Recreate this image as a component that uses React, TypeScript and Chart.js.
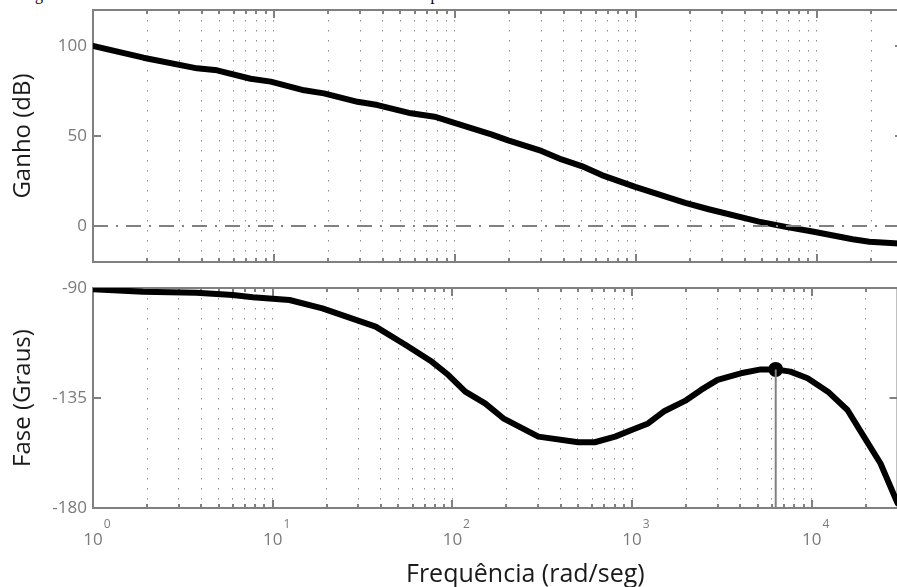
import React, { useEffect, useRef } from 'react';
import { Chart, registerables } from 'chart.js';
Chart.register(...registerables);

const FONT = "'Open Sans', sans-serif";
const TICK_COLOR = '#7a7a7a';
const TITLE_COLOR = '#1a1a1a';
const FRAME_COLOR = '#808080';
const CANVAS_W = 905;

const titleText = 'Diagrama de Bode da malha aberta do sistema avaliado com compensador';
const gainAxisTitle = 'Ganho (dB)';
const phaseAxisTitle = 'Fase (Graus)';
const freqAxisTitle = 'Frequência (rad/seg)';

// Gain curve (rad/s, dB)
const gainFreq = [1, 1.9, 3.76, 4.85, 7.43, 9.6, 14.7, 18.9, 29, 37.4, 57.3, 77.2, 95.5, 159, 197, 301, 389, 502, 649, 993, 1878, 2531, 4800, 6745, 9480, 15800, 19540, 30000];
const gainDb = [100, 93.5, 87.6, 86.5, 81.8, 80.2, 75.4, 73.7, 69, 67.2, 62.6, 60.7, 57.9, 50.9, 47.6, 41.7, 37, 33.3, 28.3, 21.7, 12.9, 9.3, 2.4, -0.5, -3.1, -7.4, -8.7, -9.8];

// Phase curve (rad/s, degrees)
const phaseFreq = [1, 1.9, 3.76, 6, 7.75, 12.4, 18.9, 37.4, 55, 77, 95, 118, 152, 192, 301, 502, 620, 805, 993, 1228, 1518, 1970, 2420, 2990, 4030, 5200, 6300, 7600, 9480, 12300, 15800, 19500, 24100, 30000];
const phaseDeg = [-90.5, -91.5, -91.9, -92.9, -93.8, -94.9, -98.3, -105.8, -113.3, -120.2, -125.6, -132.4, -137.2, -143.3, -150.8, -153.1, -153.1, -150.8, -148.1, -145.4, -140.3, -136.2, -131.7, -127.6, -124.9, -123.3, -123.3, -124.2, -126.9, -132.4, -139.9, -150.8, -161.7, -178];

// Phase margin marker
const marginFreq = [6300];
const marginPhase = [-123.3];

const gainTicks = [0, 50, 100];
const phaseTicks = [-180, -135, -90];
const gainRange = [-20, 120];
const phaseRange = [-180, -90];
const freqMin = 1;
const freqMax = 30000;
const decadeLabel = '10';

const freqTickValues: number[] = [];
for (let k = 0; k <= 4; k++) {
  for (let m = 1; m <= 9; m++) {
    const v = m * Math.pow(10, k);
    if (v <= freqMax) freqTickValues.push(v);
  }
}

const isDecade = (v: number) => {
  const l = Math.log10(v);
  return Math.abs(l - Math.round(l)) < 1e-9;
};

const framePlugin = {
  id: 'bodeFrame',
  beforeDatasetsDraw(chart: any) {
    const { ctx, chartArea } = chart;
    const { left, right, top, bottom } = chartArea;
    const xs = chart.scales.x;
    const ys = chart.scales.y;
    ctx.save();
    ctx.strokeStyle = FRAME_COLOR;
    ctx.lineWidth = 2;
    ctx.beginPath();
    freqTickValues.forEach((v) => {
      if (v === freqMin) return;
      const px = Math.round(xs.getPixelForValue(v));
      const len = isDecade(v) ? 8 : 4;
      ctx.moveTo(px, top);
      ctx.lineTo(px, top + len);
      ctx.moveTo(px, bottom);
      ctx.lineTo(px, bottom - len);
    });
    ys.ticks.forEach((t: any) => {
      const py = Math.round(ys.getPixelForValue(t.value));
      ctx.moveTo(left, py);
      ctx.lineTo(left + 8, py);
      ctx.moveTo(right, py);
      ctx.lineTo(right - 8, py);
    });
    ctx.stroke();
    ctx.strokeRect(left, top, right - left, bottom - top);
    ctx.restore();
  },
};

const exponentPlugin = {
  id: 'decadeExponent',
  afterDraw(chart: any) {
    const { ctx, chartArea } = chart;
    const xs = chart.scales.x;
    ctx.save();
    ctx.font = `17px ${FONT}`;
    const w = ctx.measureText(decadeLabel).width;
    ctx.font = `12px ${FONT}`;
    ctx.fillStyle = TICK_COLOR;
    ctx.textAlign = 'left';
    ctx.textBaseline = 'alphabetic';
    freqTickValues.forEach((v) => {
      if (!isDecade(v)) return;
      const px = xs.getPixelForValue(v);
      ctx.fillText(String(Math.round(Math.log10(v))), px + w / 2 + 1, chartArea.bottom + 20);
    });
    ctx.restore();
  },
};

function xScale(showLabels: boolean, height: number) {
  return {
    type: 'logarithmic' as const,
    min: freqMin,
    max: freqMax,
    afterBuildTicks: (s: any) => {
      s.ticks = freqTickValues.map((v) => ({ value: v, major: isDecade(v) }));
    },
    afterFit: (s: any) => {
      s.height = height;
      s.paddingLeft = 0;
      s.paddingRight = 0;
    },
    grid: { display: true, color: '#8a8a8a', lineWidth: 1, drawTicks: false },
    border: { display: false, dash: [1.5, 8.5] },
    ticks: {
      display: showLabels,
      autoSkip: false,
      maxRotation: 0,
      minRotation: 0,
      padding: 22,
      color: TICK_COLOR,
      font: { family: FONT, size: 17 },
      callback: (v: any) => (isDecade(Number(v)) ? decadeLabel : ''),
    },
  };
}

function yScale(range: number[], ticks: number[], title: string) {
  return {
    min: range[0],
    max: range[1],
    afterBuildTicks: (s: any) => {
      s.ticks = ticks.map((v) => ({ value: v }));
    },
    afterFit: (s: any) => {
      s.width = 93;
      s.paddingTop = 0;
      s.paddingBottom = 0;
    },
    grid: { display: false, drawTicks: false },
    border: { display: false },
    ticks: {
      padding: 6,
      color: TICK_COLOR,
      font: { family: FONT, size: 17 },
    },
    title: {
      display: true,
      text: title,
      color: TITLE_COLOR,
      font: { family: FONT, size: 24 },
      padding: { top: 9, bottom: 0 },
    },
  };
}

export default function App() {
  const gainRef = useRef<HTMLCanvasElement>(null);
  const phaseRef = useRef<HTMLCanvasElement>(null);

  useEffect(() => {
    const gainChart = new Chart(gainRef.current as HTMLCanvasElement, {
      type: 'line',
      data: {
        datasets: [
          {
            data: [
              { x: freqMin, y: 0 },
              { x: freqMax, y: 0 },
            ],
            borderColor: '#808080',
            borderWidth: 2,
            borderDash: [15, 8, 2, 8],
            pointRadius: 0,
          },
          {
            data: gainFreq.map((f, i) => ({ x: f, y: gainDb[i] })),
            borderColor: '#000',
            borderWidth: 6,
            borderCapStyle: 'round',
            borderJoinStyle: 'round',
            pointRadius: 0,
            tension: 0,
          },
        ],
      },
      options: {
        responsive: false,
        animation: false,
        layout: { padding: { top: 10, right: 2, left: 0, bottom: 0 } },
        plugins: { legend: { display: false }, tooltip: { enabled: false } },
        scales: {
          x: xScale(false, 8) as any,
          y: yScale(gainRange, gainTicks, gainAxisTitle) as any,
        },
      },
      plugins: [framePlugin],
    });

    const phaseChart = new Chart(phaseRef.current as HTMLCanvasElement, {
      type: 'line',
      data: {
        datasets: [
          {
            data: [
              { x: marginFreq[0], y: marginPhase[0] },
              { x: marginFreq[0], y: phaseRange[0] },
            ],
            borderColor: '#808080',
            borderWidth: 2,
            pointRadius: 0,
          },
          {
            data: phaseFreq.map((f, i) => ({ x: f, y: phaseDeg[i] })),
            borderColor: '#000',
            borderWidth: 6,
            borderCapStyle: 'round',
            borderJoinStyle: 'round',
            pointRadius: 0,
            tension: 0,
          },
          {
            data: marginFreq.map((f, i) => ({ x: f, y: marginPhase[i] })),
            borderColor: '#000',
            backgroundColor: '#000',
            showLine: false,
            pointRadius: 7.5,
            pointBorderWidth: 0,
          },
        ],
      },
      options: {
        responsive: false,
        animation: false,
        layout: { padding: { top: 18, right: 2, left: 0, bottom: 0 } },
        plugins: { legend: { display: false }, tooltip: { enabled: false } },
        scales: {
          x: xScale(true, 79) as any,
          y: yScale(phaseRange, phaseTicks, phaseAxisTitle) as any,
        },
      },
      plugins: [framePlugin, exponentPlugin],
    });

    return () => {
      gainChart.destroy();
      phaseChart.destroy();
    };
  }, []);

  return (
    <div
      style={{
        position: 'fixed',
        left: 0,
        top: 0,
        width: 897,
        height: 587,
        overflow: 'hidden',
        background: '#fff',
      }}
    >
      <div
        style={{
          position: 'absolute',
          left: 12,
          top: -14,
          font: "16px 'Liberation Serif', serif",
          lineHeight: '18px',
          whiteSpace: 'nowrap',
          color: '#000',
        }}
      >
        {titleText}
      </div>
      <div style={{ position: 'absolute', left: 0, top: 0, width: CANVAS_W, height: 270 }}>
        <canvas ref={gainRef} width={CANVAS_W} height={270} style={{ width: CANVAS_W, height: 270 }} />
      </div>
      <div style={{ position: 'absolute', left: 0, top: 270, width: CANVAS_W, height: 317 }}>
        <canvas ref={phaseRef} width={CANVAS_W} height={317} style={{ width: CANVAS_W, height: 317 }} />
      </div>
      <div
        style={{
          position: 'absolute',
          left: 406,
          top: 560,
          font: `25px ${FONT}`,
          lineHeight: '25px',
          whiteSpace: 'nowrap',
          color: TITLE_COLOR,
        }}
      >
        {freqAxisTitle}
      </div>
    </div>
  );
}
